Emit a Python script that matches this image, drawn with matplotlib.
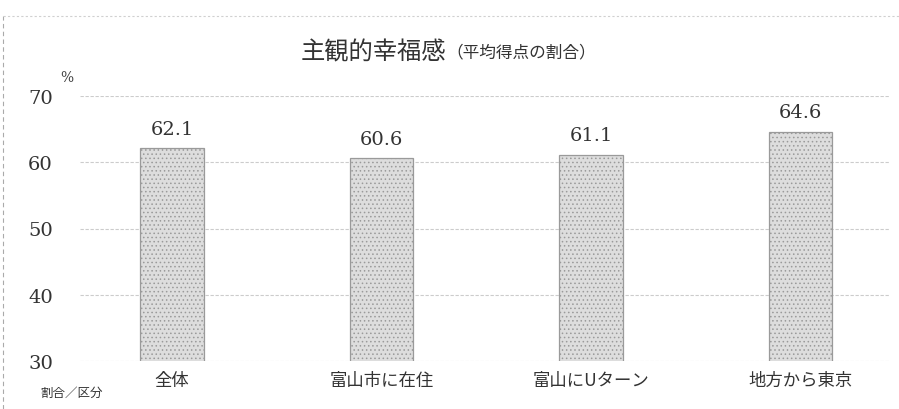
import matplotlib.pyplot as plt
from matplotlib.lines import Line2D

# data
categories = ['全体', '富山市に在住', '富山にUターン', '地方から東京']
values = [62.1, 60.6, 61.1, 64.6]
yticks = [30, 40, 50, 60, 70]

jp = ['Noto Sans CJK JP', 'DejaVu Sans']
num_font = 'DejaVu Serif'

fig = plt.figure(figsize=(8.99, 4.10), dpi=100)
ax = fig.add_axes([80 / 899, 48 / 410, 810 / 899, 265 / 410])

x = list(range(len(categories)))
plt.rcParams['hatch.color'] = '#bdbdbd'
plt.rcParams['hatch.linewidth'] = 0.6
bars = ax.bar(x, values, width=0.305, bottom=0, color='#dddddd',
              edgecolor='#9a9a9a', linewidth=0.9, hatch='....', zorder=3)

for xi, v in zip(x, values):
    ax.text(xi, v + 1.6, f'{v:.1f}', ha='center', va='bottom',
            fontsize=14, family=num_font, color='#333333')

ax.set_ylim(30, 70)
ax.set_xlim(-0.439, 3.427)
ax.set_yticks(yticks)
ax.set_yticklabels([str(t) for t in yticks], family=num_font, fontsize=14,
                   color='#333333')
ax.set_xticks(x)
ax.set_xticklabels(categories, family=jp, fontsize=12.5, color='#333333')
ax.tick_params(axis='both', length=0)
ax.tick_params(axis='y', pad=19.5)
ax.tick_params(axis='x', pad=7)
for s in ax.spines.values():
    s.set_visible(False)
ax.grid(axis='y', color='#cccccc', linestyle=(0, (3, 1.5)), linewidth=0.8,
        zorder=0)

# title in two sizes
fig.text(446 / 899, 1 - 52 / 410, '主観的幸福感', ha='right', va='center',
         fontsize=17.5, family=jp, color='#333333')
fig.text(446 / 899, 1 - 53 / 410, '（平均得点の割合）', ha='left', va='center',
         fontsize=12, family=jp, color='#333333')

fig.text(60 / 899, 1 - 78 / 410, '%', ha='left', va='center', fontsize=10,
         family=num_font, color='#444444')
fig.text(40 / 899, 1 - 393 / 410, '割合／区分', ha='left', va='center',
         fontsize=9, family=jp, color='#333333')

# faint scan border
fig.add_artist(Line2D([3 / 899, 3 / 899], [0, 1 - 17 / 410],
                      transform=fig.transFigure, color='#aaaaaa',
                      linewidth=0.8, linestyle=(0, (4, 3))))
fig.add_artist(Line2D([3 / 899, 1], [1 - 17 / 410, 1 - 17 / 410],
                      transform=fig.transFigure, color='#d0d0d0',
                      linewidth=0.8, linestyle=(0, (2, 2))))

fig.savefig('out.png', dpi=100)
